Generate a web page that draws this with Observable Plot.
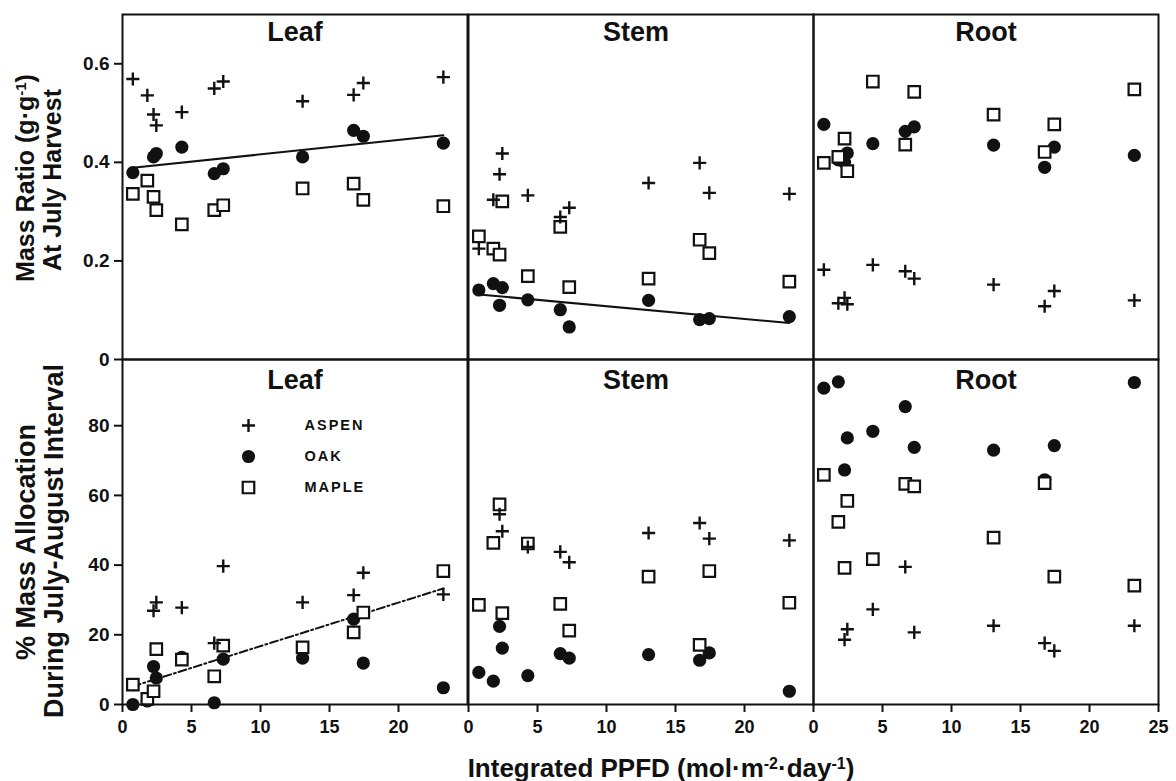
<!DOCTYPE html>
<html><head><meta charset="utf-8">
<script src="https://cdn.jsdelivr.net/npm/d3@7"></script>
<script src="https://cdn.jsdelivr.net/npm/@observablehq/plot@0.6"></script>
<style>
body{margin:0;background:#fff;}
#chart{position:relative;width:1176px;height:781px;font-family:"Liberation Sans",Arial,sans-serif;color:#111;}
#chart svg{position:absolute;overflow:visible;}
</style></head><body><div id="chart"></div>
<script>
// Integrated PPFD (mol m-2 day-1) of the 11 light treatments
const light = [0.75, 1.8, 2.25, 2.45, 4.3, 6.65, 7.3, 13.05, 16.75, 17.45, 23.25];
const species = ["Aspen", "Oak", "Maple"];
const organs = ["Leaf", "Stem", "Root"];

// Mass ratio at July harvest (g g-1)
const ratioLeafAspen = [0.569, 0.536, 0.497, 0.475, 0.502, 0.550, 0.564, 0.524, 0.537, 0.561, 0.573];
const ratioLeafOak   = [0.379, null, 0.411, 0.418, 0.431, 0.377, 0.387, 0.411, 0.465, 0.453, 0.439];
const ratioLeafMaple = [0.336, 0.363, 0.330, 0.303, 0.274, 0.303, 0.313, 0.347, 0.357, 0.324, 0.311];
const ratioStemAspen = [0.225, 0.324, 0.376, 0.418, 0.333, 0.289, 0.308, 0.358, 0.399, 0.338, 0.336];
const ratioStemOak   = [0.141, 0.154, 0.110, 0.146, 0.121, 0.101, 0.066, 0.120, 0.081, 0.083, 0.087];
const ratioStemMaple = [0.250, 0.225, 0.213, 0.321, 0.169, 0.269, 0.147, 0.164, 0.243, 0.216, 0.158];
const ratioRootAspen = [0.182, 0.114, 0.125, 0.112, 0.192, 0.179, 0.164, 0.152, 0.108, 0.139, 0.120];
const ratioRootOak   = [0.477, 0.405, 0.400, 0.419, 0.438, 0.463, 0.472, 0.435, 0.390, 0.431, 0.414];
const ratioRootMaple = [0.399, 0.411, 0.448, 0.382, 0.564, 0.436, 0.543, 0.497, 0.421, 0.477, 0.548];

// % mass allocation during July-August interval
const allocLeafAspen = [null, null, 26.9, 29.3, 27.8, 17.6, 39.7, 29.3, 31.4, 37.8, 31.6];
const allocLeafOak   = [0, 1.0, 10.9, 7.6, 13.5, 0.5, 13.0, 13.3, 24.5, 11.9, 4.8];
const allocLeafMaple = [5.7, 1.6, 3.8, 15.9, 12.9, 8.1, 16.9, 16.4, 20.7, 26.4, 38.3];
const allocStemAspen = [null, null, 54.6, 49.7, 45.2, 43.8, 40.8, 49.2, 52.1, 47.6, 47.1];
const allocStemOak   = [9.2, 6.7, 22.4, 16.2, 8.3, 14.6, 13.3, 14.3, 12.7, 14.8, 3.8];
const allocStemMaple = [28.6, 46.4, 57.4, 26.2, 46.2, 28.9, 21.2, 36.7, 17.1, 38.3, 29.2];
const allocRootAspen = [null, null, 18.6, 21.6, 27.3, 39.5, 20.7, 22.6, 17.6, 15.4, 22.6];
const allocRootOak   = [90.8, 92.6, 67.3, 76.5, 78.4, 85.5, 73.8, 73.0, 64.5, 74.3, 92.4];
const allocRootMaple = [65.9, 52.4, 39.2, 58.4, 41.7, 63.3, 62.6, 47.9, 63.5, 36.7, 34.1];

// Regression lines (end points)
const fitX = [0.75, 23.25];
const fitRatioLeaf = [0.389, 0.455];
const fitRatioStem = [0.132, 0.074];
const fitAllocLeaf = [5.2, 33.3];

const ratioTicks = [0, 0.2, 0.4, 0.6];
const allocTicks = [0, 20, 40, 60, 80];
const xTicksInner = [0, 5, 10, 15, 20];
const xTicksLast = [0, 5, 10, 15, 20, 25];

const chart = document.getElementById("chart");
const rows = (ys, sp) => light.map((x, i) => ({x, y: ys[i], species: sp})).filter(d => d.y != null);
const fitRows = ys => fitX.map((x, i) => ({x, y: ys[i]}));

const styleOf = {
  Aspen: {symbol: "plus", r: 4.3, stroke: "#111", strokeWidth: 2.4, fill: "none"},
  Oak:   {symbol: "circle", r: 6.6, fill: "#111", stroke: "none"},
  Maple: {symbol: "square", r: 6.5, fill: "white", stroke: "#111", strokeWidth: 2.2}
};

const W = 345, H = 345;
const colLeft = [122, 468, 813];
const rowTop = [14, 359];
const FONT = "'Liberation Sans', Arial, sans-serif";

function panel({col, row, sets, fit, dash, yDomain, yTicks, yFormat, title}) {
  const showY = col === 0, showX = row === 1;
  const mL = showY ? 80 : 0, mB = showX ? 40 : 0;
  const marks = [];
  if (fit) marks.push(Plot.line(fitRows(fit), {x: "x", y: "y", stroke: "#111", strokeWidth: 2, strokeDasharray: dash ? "8,3,2,3" : null}));
  for (const sp of ["Oak", "Maple", "Aspen"]) {
    marks.push(Plot.dot(rows(sets[sp], sp), {x: "x", y: "y", ...styleOf[sp]}));
  }
  marks.push(Plot.frame({stroke: "#111", strokeWidth: 2}));
  marks.push(Plot.text([title], {frameAnchor: "top", lineAnchor: "middle", dx: col === 1 ? -5 : 0, dy: row === 0 ? 18 : 21, fontSize: 27, fontWeight: "bold", fill: "#111"}));
  if (showY) marks.push(Plot.axisY(yTicks, {tickSize: 8, tickPadding: 5, strokeWidth: 2, fontSize: 19, fontWeight: "bold", tickFormat: yFormat, label: null, fill: "#111"}));
  if (showX) marks.push(Plot.axisX(col === 2 ? xTicksLast : xTicksInner, {tickSize: 8, tickPadding: 8, strokeWidth: 2, fontSize: 18, fontWeight: "bold", label: null, fill: "#111"}));
  const svg = Plot.plot({
    width: W + mL, height: H + mB,
    marginLeft: mL, marginRight: 0, marginTop: 0, marginBottom: mB,
    x: {domain: [0, 25], axis: showX ? undefined : null},
    y: {domain: yDomain, axis: showY ? undefined : null},
    style: {background: "transparent", fontFamily: FONT, color: "#111", overflow: "visible"},
    marks
  });
  svg.style.left = (colLeft[col] - mL) + "px";
  svg.style.top = rowTop[row] + "px";
  chart.appendChild(svg);
}

const ratioFmt = d => d === 0 ? "0" : d.toFixed(1);
const allocFmt = d => String(d);

panel({col: 0, row: 0, title: "Leaf", sets: {Aspen: ratioLeafAspen, Oak: ratioLeafOak, Maple: ratioLeafMaple}, fit: fitRatioLeaf, yDomain: [0, 0.7], yTicks: ratioTicks, yFormat: ratioFmt});
panel({col: 1, row: 0, title: "Stem", sets: {Aspen: ratioStemAspen, Oak: ratioStemOak, Maple: ratioStemMaple}, fit: fitRatioStem, yDomain: [0, 0.7], yTicks: ratioTicks, yFormat: ratioFmt});
panel({col: 2, row: 0, title: "Root", sets: {Aspen: ratioRootAspen, Oak: ratioRootOak, Maple: ratioRootMaple}, yDomain: [0, 0.7], yTicks: ratioTicks, yFormat: ratioFmt});
panel({col: 0, row: 1, title: "Leaf", sets: {Aspen: allocLeafAspen, Oak: allocLeafOak, Maple: allocLeafMaple}, fit: fitAllocLeaf, dash: true, yDomain: [0, 99], yTicks: allocTicks, yFormat: allocFmt});
panel({col: 1, row: 1, title: "Stem", sets: {Aspen: allocStemAspen, Oak: allocStemOak, Maple: allocStemMaple}, yDomain: [0, 99], yTicks: allocTicks, yFormat: allocFmt});
panel({col: 2, row: 1, title: "Root", sets: {Aspen: allocRootAspen, Oak: allocRootOak, Maple: allocRootMaple}, yDomain: [0, 99], yTicks: allocTicks, yFormat: allocFmt});

// Legend inside the lower Leaf panel
const legend = Plot.plot({
  width: 150, height: 96, margin: 0,
  x: {axis: null}, y: {type: "point", domain: species, range: [16, 79], padding: 0, axis: null},
  style: {background: "transparent", fontFamily: FONT, overflow: "visible", letterSpacing: "2px"},
  marks: [
    ...species.map(sp => Plot.dot([sp], {y: d => d, frameAnchor: "left", dx: 10, ...styleOf[sp]})),
    Plot.text(species, {y: d => d, frameAnchor: "left", dx: 66, textAnchor: "start", text: d => d.toUpperCase(), fontSize: 14.5, fontWeight: "bold", fill: "#111"})
  ]
});
legend.style.left = "238px";
legend.style.top = "408px";
chart.appendChild(legend);

// Axis titles
const ov = d3.create("svg").attr("width", 1176).attr("height", 781)
  .style("left", "0px").style("top", "0px").style("pointer-events", "none")
  .attr("font-family", FONT).attr("font-weight", "bold").attr("fill", "#111");
function addParts(t, parts, supSize) {
  for (const [s, sup] of parts) {
    t.append("tspan").attr("baseline-shift", sup ? "super" : null).attr("font-size", sup ? supSize : null).text(s);
  }
}
function vtitle(x, y, size, parts) {
  const t = ov.append("text").attr("transform", `translate(${x},${y}) rotate(-90)`).attr("text-anchor", "middle").attr("font-size", size);
  addParts(t, parts, 15);
}
vtitle(34, 178, 25, [["Mass Ratio (g·g"], ["-1", true], [")"]]);
vtitle(61, 180, 25, [["At July Harvest"]]);
vtitle(35, 542, 27, [["% Mass Allocation"]]);
vtitle(63, 541, 27, [["During July-August Interval"]]);
const xt = ov.append("text").attr("x", 661).attr("y", 777).attr("text-anchor", "middle").attr("font-size", 26);
addParts(xt, [["Integrated PPFD (mol·m"], ["-2", true], ["·day"], ["-1", true], [")"]], 16);
chart.appendChild(ov.node());
</script></body></html>
